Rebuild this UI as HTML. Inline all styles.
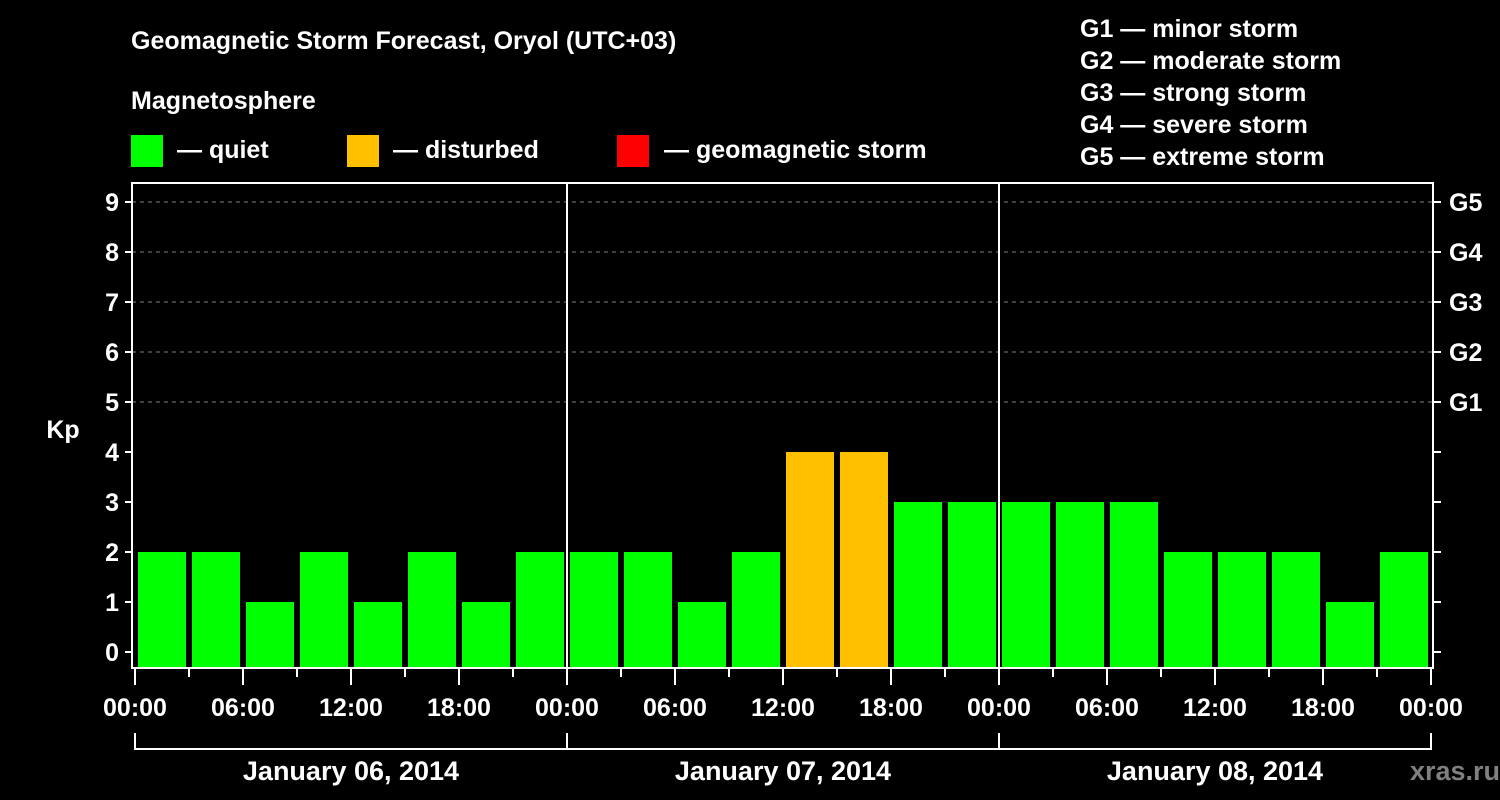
<!DOCTYPE html>
<html><head><meta charset="utf-8"><style>
html,body{margin:0;padding:0;background:#000;}
svg{display:block;font-family:"Liberation Sans",Arial,sans-serif;font-weight:bold;}
</style></head><body>
<svg id="chart" width="1500" height="800" viewBox="0 0 1500 800">
<rect width="1500" height="800" fill="#000"/>
<text x="131" y="49" font-size="25" fill="#fff">Geomagnetic Storm Forecast, Oryol (UTC+03)</text>
<text x="131" y="109" font-size="25" fill="#fff">Magnetosphere</text>
<g><rect x="131" y="135" width="32" height="32" fill="#00ff00"/><text x="177" y="158" font-size="25" fill="#fff">— quiet</text></g>
<g><rect x="347" y="135" width="32" height="32" fill="#ffc000"/><text x="393" y="158" font-size="25" fill="#fff">— disturbed</text></g>
<g><rect x="617" y="135" width="32" height="32" fill="#ff0000"/><text x="664" y="158" font-size="25" fill="#fff">— geomagnetic storm</text></g>
<g font-size="25" fill="#fff">
<text x="1080" y="37">G1 — minor storm</text>
<text x="1080" y="69">G2 — moderate storm</text>
<text x="1080" y="101">G3 — strong storm</text>
<text x="1080" y="133">G4 — severe storm</text>
<text x="1080" y="165">G5 — extreme storm</text>
</g>
<text x="63" y="438" font-size="25" fill="#fff" text-anchor="middle">Kp</text>
<text x="1500" y="780" font-size="27" fill="#808080" text-anchor="end">xras.ru</text>
<g id="grid"></g><g id="bars"></g><g id="axes"></g>
</svg>
<script>
const days = ["January 06, 2014","January 07, 2014","January 08, 2014"];
const hourLabels = ["00:00","06:00","12:00","18:00"];
const kpValues = [2,2,1,2,1,2,1,2, 2,2,1,2,4,4,3,3, 3,3,3,2,2,2,1,2];
const yTicks = [0,1,2,3,4,5,6,7,8,9];
const gLabels = ["G1","G2","G3","G4","G5"];

const NS="http://www.w3.org/2000/svg";
const x0=135, slot=54, plotL=132, plotR=1433, plotT=183, plotB=668;
const xs = i => x0 + i*slot;
const ys = v => 652 - v*50;
function mk(tag, attrs, parent){const e=document.createElementNS(NS,tag);for(const k in attrs)e.setAttribute(k,attrs[k]);parent.appendChild(e);return e;}
const grid=document.getElementById('grid'), bars=document.getElementById('bars'), axes=document.getElementById('axes');
const color = v => v>=5?"#ff0000":(v>=4?"#ffc000":"#00ff00");

yTicks.forEach(v=>{
  if(v>=5){const l=mk('line',{x1:plotL,x2:plotR,y1:ys(v),y2:ys(v),stroke:'#808080','stroke-width':1,'stroke-dasharray':'4,4'},grid);
  
  }
  const t=mk('line',{x1:plotL-7,x2:plotL,y1:ys(v),y2:ys(v),stroke:'#fff','stroke-width':2},axes);
  
  
  const tx=mk('text',{x:plotL-13,y:ys(v)+9,'font-size':25,fill:'#fff','text-anchor':'end'},axes);tx.textContent=v;
  
  
  const rt=mk('line',{x1:plotR,x2:plotR+8,y1:ys(v),y2:ys(v),stroke:'#fff','stroke-width':2},axes);
  
  
});
gLabels.forEach((g,i)=>{
  const t=mk('text',{x:1449,y:ys(i+5)+9,'font-size':25,fill:'#fff'},axes);t.textContent=g;
  
  
});
kpValues.forEach((v,i)=>{
  const y=ys(v);
  const r=mk('rect',{x:xs(i)+3,y:y,width:48,height:plotB-y,fill:color(v)},bars);
  
  
});
// frame
const f=mk('rect',{x:plotL,y:plotT,width:plotR-plotL,height:plotB-plotT,fill:'none',stroke:'#fff','stroke-width':2},axes);


for(let d=1; d<days.length; d++){
  const l=mk('line',{x1:xs(d*8),x2:xs(d*8),y1:plotT,y2:plotB,stroke:'#fff','stroke-width':2},axes);
  
  
}
for(let i=0;i<=kpValues.length;i++){
  const major=i%2===0;
  const t=mk('line',{x1:xs(i),x2:xs(i),y1:plotB,y2:major?685:677,stroke:'#fff','stroke-width':2},axes);
  
  
  if(major){
    const tx=mk('text',{x:xs(i),y:716,'font-size':25,fill:'#fff','text-anchor':'middle'},axes);
    tx.textContent=hourLabels[(i/2)%4];
    
    
  }
}
days.forEach((d,k)=>{
  const a=xs(k*8), b=xs(k*8+8);
  const p=mk('path',{d:`M${a},733 V749 H${b} ${k===days.length-1?'V733':''}`,fill:'none',stroke:'#fff','stroke-width':2},axes);
  
  
  const t=mk('text',{x:(a+b)/2,y:780,'font-size':27,fill:'#fff','text-anchor':'middle'},axes);t.textContent=d;
  
  
});
</script>
</body></html>
